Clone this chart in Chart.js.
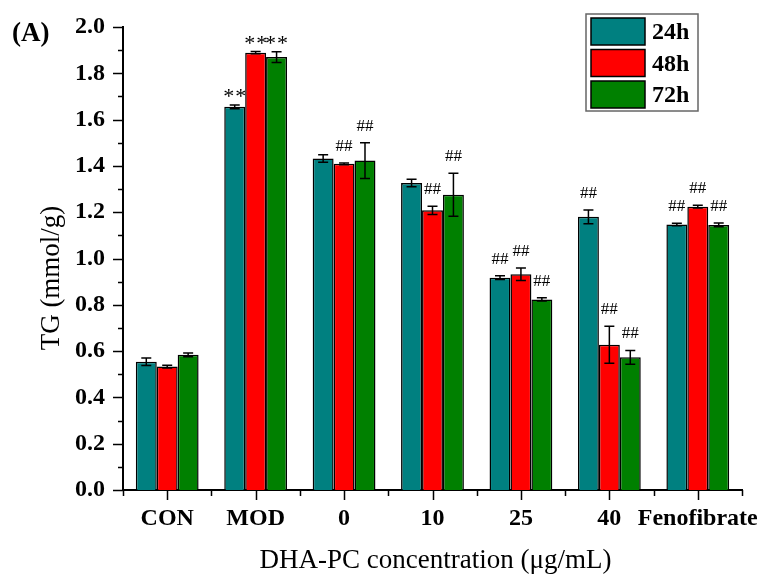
<!DOCTYPE html>
<html>
<head>
<meta charset="utf-8">
<script src="https://cdn.jsdelivr.net/npm/chart.js@4"></script>
<style>
  body { margin: 0; background: #fff; }
  canvas { display: block; }
</style>
</head>
<body>
<canvas id="tgChart" width="760" height="574"></canvas>
<script>
var groups = ['CON', 'MOD', '0', '10', '25', '40', 'Fenofibrate'];
var tg24 = [0.554, 1.655, 1.432, 1.326, 0.917, 1.180, 1.147];
var tg48 = [0.533, 1.889, 1.409, 1.208, 0.932, 0.627, 1.224];
var tg72 = [0.584, 1.870, 1.423, 1.275, 0.823, 0.573, 1.145];
var err24 = [0.016, 0.008, 0.016, 0.016, 0.008, 0.030, 0.005];
var err48 = [0.006, 0.005, 0.004, 0.018, 0.027, 0.080, 0.006];
var err72 = [0.008, 0.023, 0.077, 0.093, 0.007, 0.030, 0.008];
var marks24 = ['', '**', '', '', '##', '##', '##'];
var marks48 = ['', '**', '##', '##', '##', '##', '##'];
var marks72 = ['', '**', '##', '##', '##', '##', '##'];
var yTicks = [0, 0.2, 0.4, 0.6, 0.8, 1.0, 1.2, 1.4, 1.6, 1.8, 2.0];
var xTitle = 'DHA-PC concentration (μg/mL)';
var yTitle = 'TG (mmol/g)';

var serif = '"Liberation Serif", "Times New Roman", serif';

var extras = {
    id: 'extras',
    afterDatasetsDraw: function (chart) {
        var c = chart.ctx;
        var x = chart.scales.x, y = chart.scales.y;
        var area = chart.chartArea;
        c.save();
        c.strokeStyle = '#000';
        c.fillStyle = '#000';

        // error bars + significance marks
        chart.data.datasets.forEach(function (ds, i) {
            var meta = chart.getDatasetMeta(i);
            meta.data.forEach(function (bar, j) {
                var v = ds.data[j], e = ds.errors[j];
                var yt = y.getPixelForValue(v + e), yb = y.getPixelForValue(v - e);
                c.lineWidth = 1.5;
                c.beginPath();
                c.moveTo(bar.x, yt); c.lineTo(bar.x, yb);
                c.moveTo(bar.x - 5, yt); c.lineTo(bar.x + 5, yt);
                c.moveTo(bar.x - 5, yb); c.lineTo(bar.x + 5, yb);
                c.stroke();
                var m = ds.marks[j];
                if (m) {
                    c.textAlign = 'center';
                    c.textBaseline = 'alphabetic';
                    if (m === '**') {
                        c.font = '22px ' + serif;
                        c.letterSpacing = '1px';
                        c.fillText(m, bar.x + 0.5, yt - 2);
                        c.letterSpacing = '0px';
                    } else {
                        c.font = '17px ' + serif;
                        c.fillText(m, bar.x, yt - 12);
                    }
                }
            });
        });

        // y ticks (major + minor)
        c.lineWidth = 1.5;
        c.beginPath();
        for (var k = 0; k <= 20; k++) {
            var py = Math.round(y.getPixelForValue(k / 10)) + 0.5;
            var len = k % 2 === 0 ? 10 : 5;
            c.moveTo(area.left, py); c.lineTo(area.left - len, py);
        }
        // x ticks: major at centers, minor at boundaries
        var n = groups.length;
        var step = (area.right - area.left) / n;
        for (var g = 0; g < n; g++) {
            var cx = Math.round(x.getPixelForValue(g)) + 0.5;
            c.moveTo(cx, area.bottom); c.lineTo(cx, area.bottom + 10);
        }
        for (var b = 0; b <= n; b++) {
            var bx = Math.round(area.left + b * step) + 0.5;
            c.moveTo(bx, area.bottom); c.lineTo(bx, area.bottom + 6);
        }
        c.stroke();

        // axis titles
        c.font = '27px ' + serif;
        c.textAlign = 'center';
        c.textBaseline = 'alphabetic';
        c.fillText(xTitle, (area.left + area.right) / 2 + 3, 568);
        c.save();
        c.translate(52, 278);
        c.rotate(-Math.PI / 2);
        c.textBaseline = 'middle';
        c.fillText(yTitle, 0, 0);
        c.restore();

        // panel letter
        c.font = 'bold 27px ' + serif;
        c.textAlign = 'left';
        c.textBaseline = 'middle';
        c.fillText('(A)', 12, 34);

        // legend box
        var lx = 586, ly = 14, lw = 112, lh = 97;
        c.strokeStyle = '#666';
        c.lineWidth = 1.5;
        c.strokeRect(lx, ly, lw, lh);
        chart.data.datasets.forEach(function (ds, i) {
            var sy = ly + 4 + i * 31.5;
            c.fillStyle = ds.backgroundColor;
            c.fillRect(lx + 5, sy, 54, 27);
            c.strokeStyle = '#000';
            c.lineWidth = 1.5;
            c.strokeRect(lx + 5, sy, 54, 27);
            c.fillStyle = '#000';
            c.font = 'bold 24px ' + serif;
            c.textAlign = 'left';
            c.textBaseline = 'middle';
            c.fillText(ds.label, lx + 66, sy + 15);
        });
        c.restore();
    }
};

var ctx = document.getElementById('tgChart').getContext('2d');
var tgChart = new Chart(ctx, {
    type: 'bar',
    data: {
        labels: groups,
        datasets: [
            { label: '24h', data: tg24, errors: err24, marks: marks24, backgroundColor: '#008080' },
            { label: '48h', data: tg48, errors: err48, marks: marks48, backgroundColor: '#ff0000' },
            { label: '72h', data: tg72, errors: err72, marks: marks72, backgroundColor: '#008000' }
        ]
    },
    options: {
        responsive: false,
        animation: false,
        devicePixelRatio: 1,
        layout: { padding: { top: 27, right: 18, left: 0, bottom: 0 } },
        datasets: {
            bar: {
                borderColor: '#000',
                borderWidth: 1.5,
                barPercentage: 1.0,
                categoryPercentage: 0.71
            }
        },
        plugins: {
            legend: { display: false },
            tooltip: { enabled: false }
        },
        scales: {
            x: {
                grid: { display: false },
                border: { display: true, color: '#000', width: 2 },
                ticks: {
                    color: '#000',
                    padding: 6,
                    maxRotation: 0,
                    autoSkip: false,
                    font: { family: serif, size: 24, weight: 'bold' }
                },
                afterFit: function (s) {
                    s.height = 84;
                    s.paddingLeft = 0;
                    s.paddingRight = 0;
                }
            },
            y: {
                min: 0,
                max: 2,
                grid: { display: false },
                border: { display: true, color: '#000', width: 2 },
                afterBuildTicks: function (s) {
                    s.ticks = yTicks.map(function (v) { return { value: v }; });
                },
                ticks: {
                    color: '#000',
                    padding: 10,
                    font: { family: serif, size: 24, weight: 'bold' },
                    callback: function (v) { return Number(v).toFixed(1); }
                },
                afterFit: function (s) {
                    s.width = 123;
                    s.paddingTop = 0;
                    s.paddingBottom = 0;
                }
            }
        }
    },
    plugins: [extras]
});
</script>
</body>
</html>
